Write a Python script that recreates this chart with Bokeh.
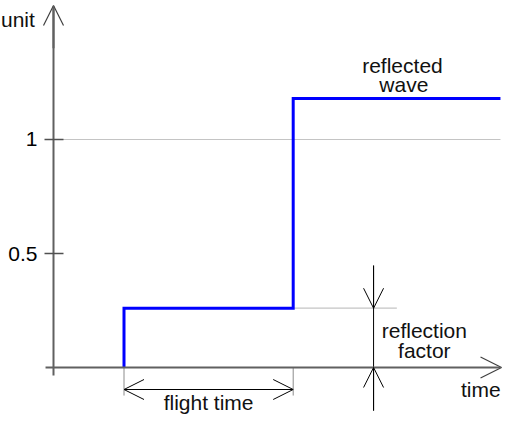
from bokeh.plotting import figure
from bokeh.models import LinearAxis, FixedTicker, Arrow, OpenHead, Label, Range1d
from bokeh.embed import file_html
from bokeh.resources import INLINE

# ---- data ----
t_launch = 1.0          # pulse launched
t_return = 3.4          # reflection arrives back (flight time later)
t_end = 6.34            # end of drawn trace
reflection_factor = 0.26
reflected_level = 1.18
unit_level = 1.0
wave_t = [t_launch, t_launch, t_return, t_return, t_end]
wave_v = [0.0, reflection_factor, reflection_factor, reflected_level, reflected_level]
y_ticks = [0.5, 1.0]
y_tick_labels = ["0.5", "1"]

FONT = "Liberation Sans"
FS = "21px"

p = figure(width=504, height=414, output_backend="svg", toolbar_location=None,
           x_range=Range1d(-0.7518, 6.3972), y_range=Range1d(-0.2061, 1.6096),
           x_axis_location=None, y_axis_location=None, min_border=0,
           outline_line_color=None)
p.grid.visible = False

# y axis at t = 0
yaxis = LinearAxis(fixed_location=0, ticker=FixedTicker(ticks=y_ticks),
                   bounds=(-0.035, 1.585),
                   axis_line_color="#606060", axis_line_width=2,
                   major_tick_in=10, major_tick_out=9,
                   major_tick_line_color="#505050", major_tick_line_width=1.5,
                   minor_tick_line_color=None,
                   major_label_text_font=FONT, major_label_text_font_size=FS,
                   major_label_text_color="black", major_label_standoff=7,
                   major_label_overrides={k: v for k, v in zip(y_ticks, y_tick_labels)})
p.add_layout(yaxis, "left")
p.add_layout(Arrow(x_start=0, y_start=1.40, x_end=0, y_end=1.588,
                   line_color="#606060", line_width=2,
                   end=OpenHead(size=20, line_color="#404040", line_width=1.2)))

# x axis (time) at v = 0
p.add_layout(Arrow(x_start=-0.113, y_start=0, x_end=6.355, y_end=0,
                   line_color="#606060", line_width=2,
                   end=OpenHead(size=21, line_color="#404040", line_width=1.2)))

# reference level 1
p.line([0, t_end], [unit_level, unit_level], line_color="#c4c4c4", line_width=1.2)
# level of reflection factor extended
p.line([t_return, 4.87], [reflection_factor, reflection_factor], line_color="#c4c4c4", line_width=1.2)

# flight-time extension lines
p.segment(x0=[t_launch, t_return], y0=[0, 0], x1=[t_launch, t_return], y1=[-0.123, -0.123],
          line_color="#8c8c8c", line_width=1)
p.add_layout(Arrow(x_start=t_launch, y_start=-0.0965, x_end=t_return, y_end=-0.0965,
                   line_color="black", line_width=1,
                   start=OpenHead(size=20, line_color="black", line_width=1),
                   end=OpenHead(size=20, line_color="black", line_width=1)))

# reflection factor dimension
t_rf = 4.54
p.line([t_rf, t_rf], [0.447, -0.189], line_color="black", line_width=1)
p.add_layout(Arrow(x_start=t_rf, y_start=0.447, x_end=t_rf, y_end=reflection_factor,
                   line_color="black", line_width=1,
                   end=OpenHead(size=20, line_color="black", line_width=1)))
p.add_layout(Arrow(x_start=t_rf, y_start=-0.189, x_end=t_rf, y_end=0,
                   line_color="black", line_width=1,
                   end=OpenHead(size=20, line_color="black", line_width=1)))

# wave
p.line(wave_t, wave_v, line_color="#0000ff", line_width=3, line_join="miter")

def lab(x, y, text, align="center"):
    p.add_layout(Label(x=x, y=y, text=text, text_font=FONT, text_font_size=FS,
                       text_align=align, text_baseline="bottom", text_color="#111111"))

lab(-0.745, 1.478, "unit", "left")
lab(4.95, 1.272, "reflected")
lab(4.97, 1.189, "wave")
lab(5.26, 0.114, "reflection")
lab(5.26, 0.022, "factor")
lab(6.06, -0.145, "time")
lab((t_launch + t_return) / 2, -0.203, "flight time")

open("out.html", "w").write(file_html(p, INLINE))
